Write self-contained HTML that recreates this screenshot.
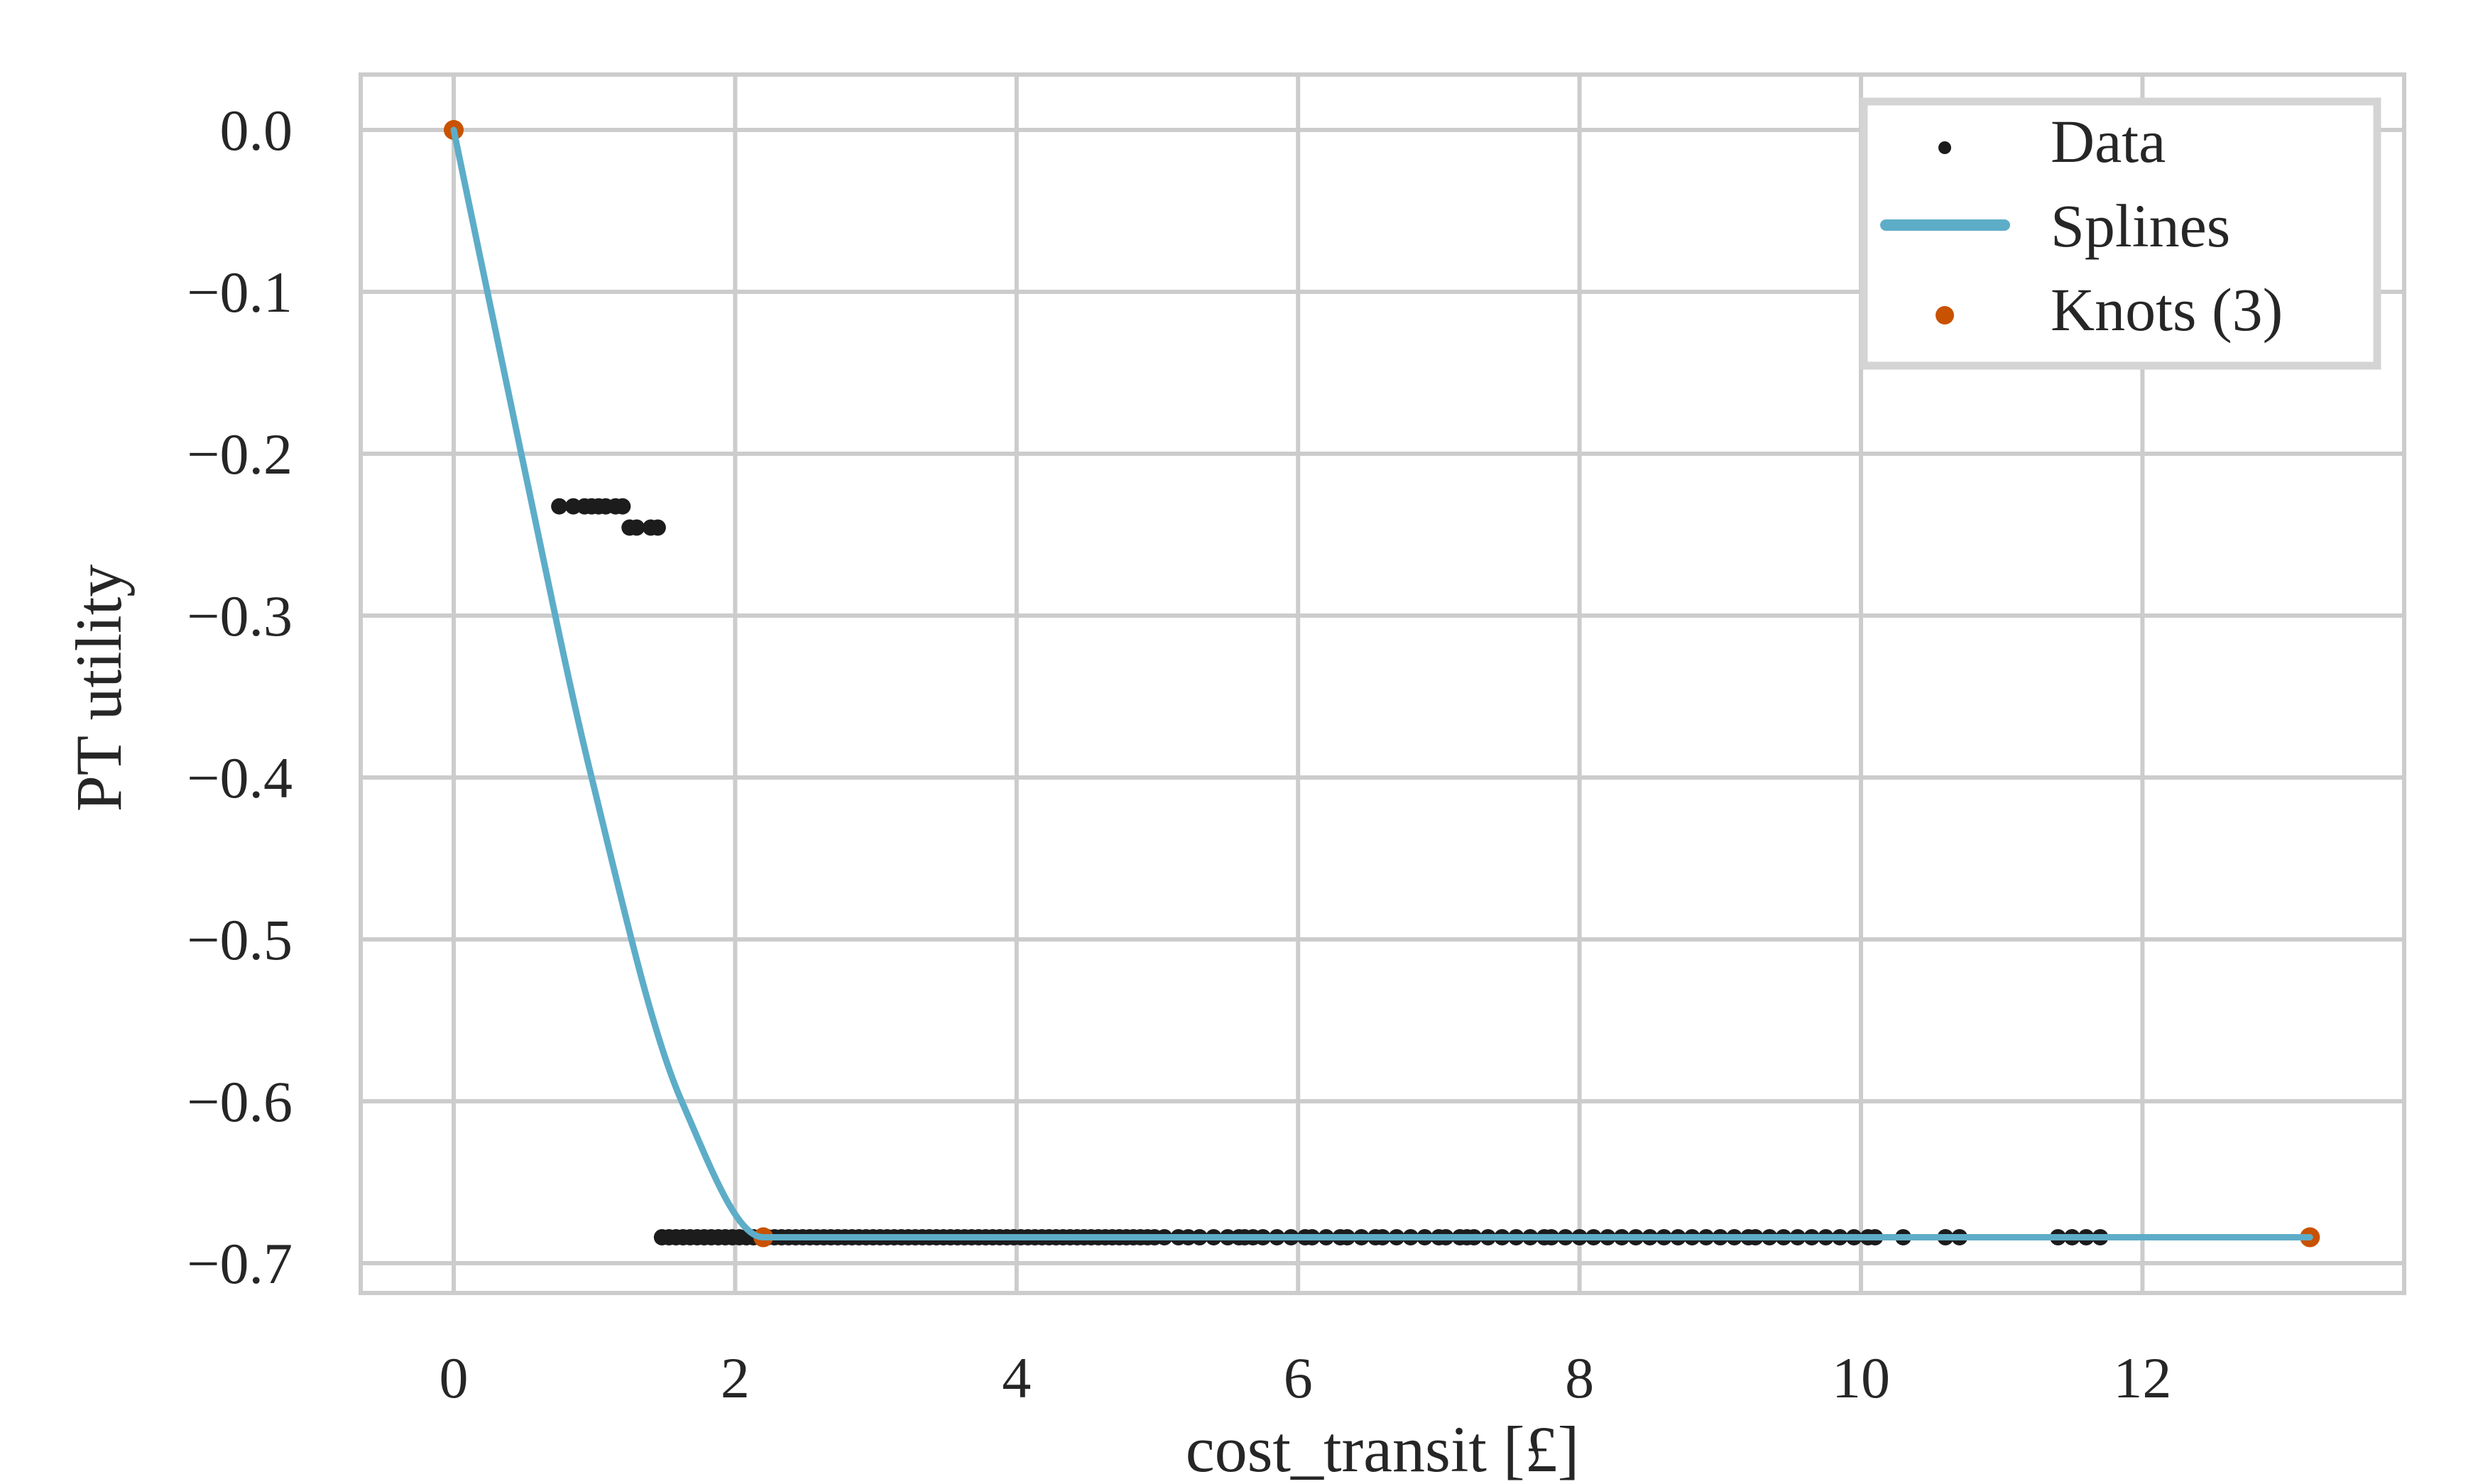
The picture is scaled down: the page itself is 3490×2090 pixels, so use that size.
<!DOCTYPE html>
<html><head><meta charset="utf-8"><style>
html,body{margin:0;padding:0;background:#fff;}
svg{display:block;}
text{font-family:"Liberation Serif",serif;fill:#262626;}
</style></head><body>
<svg id="chart" width="3490" height="2090" viewBox="0 0 3490 2090" xmlns="http://www.w3.org/2000/svg">
<rect x="0" y="0" width="3490" height="2090" fill="#fff"/>
<g id="grid"></g>
<g id="marks"></g>
<rect x="508" y="105" width="2878" height="1716" fill="none" stroke="#cccccc" stroke-width="6"/>
<g id="ticks"></g>
<text x="1947" y="2072" font-size="92" text-anchor="middle">cost_transit [£]</text>
<text x="0" y="0" font-size="92" text-anchor="middle" transform="translate(170,969) rotate(-90)">PT utility</text>
<g>
<rect x="2625" y="143" width="723" height="372" fill="#fff" stroke="#d4d4d4" stroke-width="11"/>
<circle cx="2739" cy="208" r="9" fill="#1c1c1c"/>
<text x="2888" y="228" font-size="86">Data</text>
<line x1="2656" y1="317" x2="2823" y2="317" stroke="#5dadc8" stroke-width="16" stroke-linecap="round"/>
<text x="2888" y="347" font-size="86">Splines</text>
<circle cx="2739" cy="444" r="13" fill="#c85200"/>
<text x="2888" y="465" font-size="86">Knots (3)</text>
</g>
</svg>
<script>
const xTicks = [0, 2, 4, 6, 8, 10, 12];
const xTickLabels = ["0", "2", "4", "6", "8", "10", "12"];
const yTicks = [0, -0.1, -0.2, -0.3, -0.4, -0.5, -0.6, -0.7];
const yTickLabels = ["0.0", "\u22120.1", "\u22120.2", "\u22120.3", "\u22120.4", "\u22120.5", "\u22120.6", "\u22120.7"];
const dataUpperX = [0.75, 0.85, 0.93, 0.98, 1.03, 1.08, 1.15, 1.2];
const dataUpperY = [-0.2325, -0.2325, -0.2325, -0.2325, -0.2325, -0.2325, -0.2325, -0.2325];
const dataMidX = [1.25, 1.30, 1.40, 1.45];
const dataMidY = [-0.2456, -0.2456, -0.2456, -0.2456];
const dataLowerX = [1.48,1.53,1.58,1.63,1.68,1.73,1.78,1.83,1.88,1.93,1.98,2.03,2.08,2.13,2.18,2.23,2.28,2.33,2.38,2.43,2.48,2.53,2.58,2.63,2.68,2.73,2.78,2.83,2.88,2.93,2.98,3.03,3.08,3.13,3.18,3.23,3.28,3.33,3.38,3.43,3.48,3.53,3.58,3.63,3.68,3.73,3.78,3.83,3.88,3.93,3.98,4.03,4.08,4.13,4.18,4.23,4.28,4.33,4.38,4.43,4.48,4.53,4.58,4.63,4.68,4.73,4.78,4.83,4.88,4.93,4.98,5.05,5.15,5.22,5.3,5.4,5.5,5.58,5.62,5.68,5.75,5.85,5.95,6.05,6.1,6.2,6.3,6.35,6.45,6.55,6.6,6.7,6.8,6.9,7.0,7.05,7.15,7.2,7.25,7.35,7.45,7.55,7.65,7.75,7.8,7.9,8.0,8.1,8.2,8.3,8.4,8.5,8.6,8.7,8.8,8.9,9.0,9.1,9.2,9.25,9.35,9.45,9.55,9.65,9.75,9.85,9.95,10.05,10.1,10.3,10.6,10.7,11.4,11.5,11.6,11.7];
const dataLowerY = -0.684;
const splineX = [0, 0.48, 0.98, 1.62, 2.2, 13.19];
const splineY = [0, -0.2, -0.4, -0.6, -0.684, -0.684];
const knotX = [0, 2.2, 13.19];
const knotY = [0, -0.684, -0.684];

const NS = "http://www.w3.org/2000/svg";
const X0 = 639, XS = 198.2, Y0 = 183, YS = 2280;
function sx(v){ return X0 + v * XS; }
function sy(v){ return Y0 - v * YS; }
function mk(tag, attrs, parent){
  const el = document.createElementNS(NS, tag);
  for (const k in attrs) el.setAttribute(k, attrs[k]);
  parent.appendChild(el);
  return el;
}
const grid = document.getElementById('grid');
const marks = document.getElementById('marks');
const ticks = document.getElementById('ticks');

xTicks.forEach((t, i) => {
  const l = mk('line', {x1: sx(t), x2: sx(t), y1: 105, y2: 1821, stroke: '#cccccc', 'stroke-width': 6}, grid);
  
  
  const tx = mk('text', {x: sx(t), y: 1968, 'font-size': 82, 'text-anchor': 'middle'}, ticks);
  tx.textContent = xTickLabels[i];
  
  
});
yTicks.forEach((t, i) => {
  const l = mk('line', {x1: 508, x2: 3386, y1: sy(t), y2: sy(t), stroke: '#cccccc', 'stroke-width': 6}, grid);
  
  
  const tx = mk('text', {x: 412, y: sy(t) + 28, 'font-size': 82, 'text-anchor': 'end'}, ticks);
  tx.textContent = yTickLabels[i];
  
  
});

function dot(x, y){
  const c = mk('circle', {cx: sx(x), cy: sy(y), r: 11.5, fill: '#1c1c1c'}, marks);
  
  
}
dataUpperX.forEach((x, i) => dot(x, dataUpperY[i]));
dataMidX.forEach((x, i) => dot(x, dataMidY[i]));
dataLowerX.forEach(x => dot(x, dataLowerY));

knotX.forEach((x, i) => {
  const c = mk('circle', {cx: sx(x), cy: sy(knotY[i]), r: 14, fill: '#c85200'}, marks);
  
  
});

// monotone cubic (Fritsch-Carlson) interpolation in data space
const n = splineX.length;
const dx = [], m = [];
for (let i = 0; i < n - 1; i++) { dx.push(splineX[i+1]-splineX[i]); m.push((splineY[i+1]-splineY[i])/dx[i]); }
const tg = [m[0]];
for (let i = 1; i < n - 1; i++) {
  if (m[i-1] * m[i] <= 0) tg.push(0);
  else { const w1 = 2*dx[i]+dx[i-1], w2 = dx[i]+2*dx[i-1]; tg.push((w1+w2)/(w1/m[i-1]+w2/m[i])); }
}
tg.push(m[n-2]);
let d = 'M' + sx(splineX[0]) + ',' + sy(splineY[0]);
for (let i = 0; i < n - 1; i++) {
  const h = dx[i];
  const c1x = splineX[i] + h/3, c1y = splineY[i] + tg[i]*h/3;
  const c2x = splineX[i+1] - h/3, c2y = splineY[i+1] - tg[i+1]*h/3;
  d += ' C' + sx(c1x) + ',' + sy(c1y) + ' ' + sx(c2x) + ',' + sy(c2y) + ' ' + sx(splineX[i+1]) + ',' + sy(splineY[i+1]);
}
const sp = mk('path', {d: d, fill: 'none', stroke: '#5dadc8', 'stroke-width': 9, 'stroke-linejoin': 'round', 'stroke-linecap': 'round'}, marks);


</script>
</body></html>
